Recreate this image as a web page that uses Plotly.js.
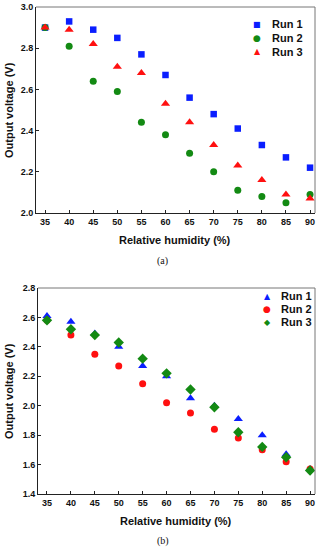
<!DOCTYPE html>
<html>
<head>
<meta charset="utf-8">
<script src="https://cdn.plot.ly/plotly-3.0.1.min.js"></script>
<style>html,body{margin:0;padding:0;background:#fff;}#chart{width:321px;height:550px;}</style>
</head>
<body>
<div id="chart"></div>
<script>
// Shared x categories: relative humidity (%)
const humidity = [35, 40, 45, 50, 55, 60, 65, 70, 75, 80, 85, 90];
const xTickVals = [35, 40, 45, 50, 55, 60, 65, 70, 75, 80, 85, 90];

// Panel (a)
const a_run1 = [2.90, 2.93, 2.89, 2.85, 2.77, 2.67, 2.56, 2.48, 2.41, 2.33, 2.27, 2.22];
const a_run2 = [2.90, 2.81, 2.64, 2.59, 2.44, 2.38, 2.29, 2.20, 2.11, 2.08, 2.05, 2.09];
const a_run3 = [2.90, 2.89, 2.82, 2.71, 2.68, 2.53, 2.44, 2.33, 2.23, 2.16, 2.09, 2.07];
const a_yTicks = [2.0, 2.2, 2.4, 2.6, 2.8, 3.0];

// Panel (b)
const b_run1 = [2.61, 2.57, 2.49, 2.40, 2.27, 2.20, 2.05, 2.00, 1.91, 1.80, 1.67, 1.57];
const b_run2 = [2.58, 2.48, 2.35, 2.27, 2.15, 2.02, 1.95, 1.84, 1.78, 1.70, 1.62, 1.57];
const b_run3 = [2.58, 2.52, 2.48, 2.43, 2.32, 2.22, 2.11, 1.99, 1.82, 1.72, 1.65, 1.56];
const b_yTicks = [1.4, 1.6, 1.8, 2.0, 2.2, 2.4, 2.6, 2.8];

const seriesNames = ['Run 1', 'Run 2', 'Run 3'];

const BLUE = '#0a1eff', GREEN = '#138a13', RED = '#ff1010';
const FONT = 'Liberation Sans, Arial, sans-serif';

function tr(y, name, sym, col, size, xa, ya) {
  return {x: humidity, y: y, name: name, type: 'scatter', mode: 'markers',
    marker: {symbol: sym, color: col, size: size, line: {width: 0}},
    xaxis: xa, yaxis: ya, showlegend: false, hoverinfo: 'skip'};
}

const data = [
  tr(a_run1, seriesNames[0], 'square', BLUE, 6.5, 'x', 'y'),
  tr(a_run2, seriesNames[1], 'circle', GREEN, 7, 'x', 'y'),
  tr(a_run3, seriesNames[2], 'triangle-up', RED, 8, 'x', 'y'),
  tr(b_run1, seriesNames[0], 'triangle-up', BLUE, 8, 'x2', 'y2'),
  tr(b_run2, seriesNames[1], 'circle', RED, 7, 'x2', 'y2'),
  tr(b_run3, seriesNames[2], 'diamond', GREEN, 8, 'x2', 'y2')
];

const tickFont = {family: FONT, size: 9, color: '#111', weight: 'bold'};
function xax(dom, anchor) {
  return {domain: dom, anchor: anchor, range: [33.12, 91.03], tickvals: xTickVals,
    ticks: 'inside', ticklen: 3, tickcolor: '#222', showline: true, linecolor: '#222', linewidth: 1,
    showgrid: false, zeroline: false, tickfont: tickFont, fixedrange: true};
}
function yax(dom, anchor, range, tv) {
  return {domain: dom, anchor: anchor, range: range, tickvals: tv, tickformat: '.1f',
    ticks: 'inside', ticklen: 3, tickcolor: '#222', showline: true, linecolor: '#222', linewidth: 1,
    showgrid: false, zeroline: false, tickfont: tickFont, fixedrange: true};
}

const titleFont = {family: FONT, size: 11, color: '#111', weight: 'bold'};
const legFont = {family: FONT, size: 11, color: '#111', weight: 'bold'};

// Legend built as text annotations (symbol + label) for exact spacing
function legendItems(symbols, colors, symX, textX, rowsY, symSizes) {
  const out = [];
  for (let i = 0; i < seriesNames.length; i++) {
    out.push({text: symbols[i], xref: 'paper', yref: 'paper', x: symX / 321, y: 1 - rowsY[i] / 550,
      showarrow: false, xanchor: 'center', yanchor: 'middle',
      font: {family: 'DejaVu Sans, sans-serif', size: symSizes[i], color: colors[i]}});
    out.push({text: seriesNames[i], xref: 'paper', yref: 'paper', x: textX / 321, y: 1 - rowsY[i] / 550,
      showarrow: false, xanchor: 'left', yanchor: 'middle', font: legFont});
  }
  return out;
}

const legendA = legendItems(['■', '●', '▲'], [BLUE, GREEN, RED], 257, 270, [24, 38, 52], [8, 9, 8]);
const legendB = legendItems(['▲', '●', '◆'], [BLUE, RED, GREEN], 267, 279, [296, 309, 322], [8, 9, 8]);

const layout = {
  width: 321, height: 550,
  margin: {l: 0, r: 0, t: 0, b: 0},
  paper_bgcolor: '#fff', plot_bgcolor: '#fff',
  showlegend: false,
  xaxis: xax([36/321, 315/321], 'y'),
  yaxis: yax([1 - 213/550, 1 - 7/550], 'x', [2.0, 3.0], a_yTicks),
  xaxis2: xax([38/321, 315/321], 'y2'),
  yaxis2: yax([1 - 494/550, 1 - 288/550], 'x2', [1.4, 2.8], b_yTicks),
  shapes: [
    {type: 'line', xref: 'x domain', yref: 'y domain', x0: 0, x1: 1, y0: 1, y1: 1, line: {color: '#777', width: 1}},
    {type: 'line', xref: 'x domain', yref: 'y domain', x0: 1, x1: 1, y0: 0, y1: 1, line: {color: '#777', width: 1}},
    {type: 'line', xref: 'x2 domain', yref: 'y2 domain', x0: 0, x1: 1, y0: 1, y1: 1, line: {color: '#777', width: 1}},
    {type: 'line', xref: 'x2 domain', yref: 'y2 domain', x0: 1, x1: 1, y0: 0, y1: 1, line: {color: '#777', width: 1}}
  ],
  annotations: [
    {text: 'Output voltage (V)', xref: 'paper', yref: 'paper', x: 9/321, y: 1 - 110/550, textangle: -90,
      showarrow: false, font: titleFont, xanchor: 'center', yanchor: 'middle'},
    {text: 'Relative humidity (%)', xref: 'paper', yref: 'paper', x: 175/321, y: 1 - 240/550,
      showarrow: false, font: titleFont, xanchor: 'center', yanchor: 'middle'},
    {text: '(a)', xref: 'paper', yref: 'paper', x: 163/321, y: 1 - 261/550,
      showarrow: false, font: {family: 'Liberation Serif, Times New Roman, serif', size: 10, color: '#111'}, xanchor: 'center', yanchor: 'middle'},
    {text: 'Output voltage (V)', xref: 'paper', yref: 'paper', x: 9/321, y: 1 - 391/550, textangle: -90,
      showarrow: false, font: titleFont, xanchor: 'center', yanchor: 'middle'},
    {text: 'Relative humidity (%)', xref: 'paper', yref: 'paper', x: 176/321, y: 1 - 521/550,
      showarrow: false, font: titleFont, xanchor: 'center', yanchor: 'middle'},
    {text: '(b)', xref: 'paper', yref: 'paper', x: 163/321, y: 1 - 541/550,
      showarrow: false, font: {family: 'Liberation Serif, Times New Roman, serif', size: 10, color: '#111'}, xanchor: 'center', yanchor: 'middle'}
  ].concat(legendA, legendB)
};

Plotly.newPlot('chart', data, layout, {staticPlot: true, displayModeBar: false});
</script>
</body>
</html>
